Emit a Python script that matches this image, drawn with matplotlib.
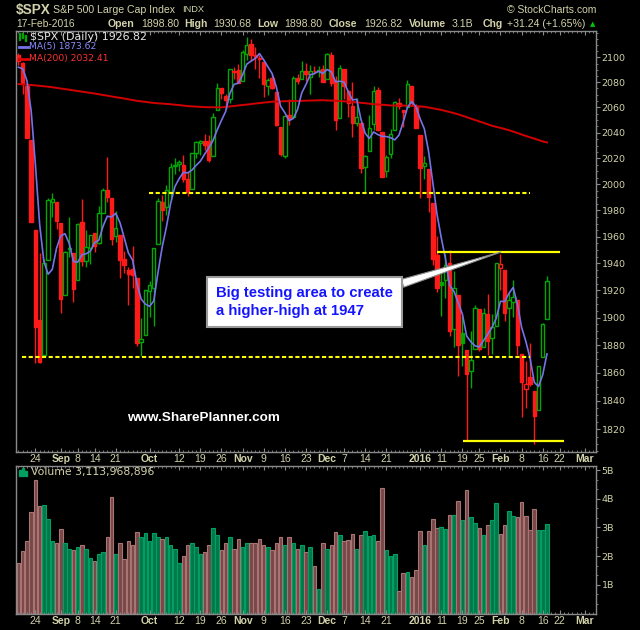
import numpy as np
import pandas as pd
import matplotlib
matplotlib.use("Agg")
import matplotlib.pyplot as plt
from matplotlib.ticker import FixedLocator, FixedFormatter, NullFormatter
from matplotlib.patches import Rectangle

# $SPX daily candles, 18-Aug-2015 .. 17-Feb-2016
opens = [2101.75, 2095.69, 2076.61, 2034.08, 1965.15, 1898.08, 1872.75, 1942.77, 1986.06, 1986.73,
         1970.09, 1916.52, 1950.79, 1947.76, 1927.30, 1971.45, 1941.59, 1951.45, 1963.06, 1955.10,
         1978.02, 1995.33, 1989.66, 1960.84, 1961.39, 1943.24, 1934.81, 1935.93, 1929.18, 1881.90,
         1887.14, 1919.65, 1921.77, 1954.33, 1986.63, 1982.34, 1994.01, 2013.73, 2015.65, 2015.00,
         2003.66, 1996.47, 2024.37, 2031.73, 2033.13, 2033.47, 2021.88, 2058.19, 2075.08, 2068.75,
         2066.48, 2088.35, 2090.00, 2080.76, 2102.63, 2110.60, 2101.68, 2098.60, 2096.56, 2077.19,
         2083.41, 2072.29, 2044.64, 2022.08, 2053.67, 2051.99, 2083.70, 2082.82, 2089.41, 2084.42,
         2089.30, 2088.82, 2090.95, 2082.93, 2101.71, 2080.71, 2051.24, 2090.42, 2073.39, 2061.17,
         2047.93, 2047.27, 2013.37, 2025.55, 2046.50, 2073.76, 2040.81, 2010.27, 2023.15, 2042.20,
         2063.52, 2057.77, 2060.54, 2077.34, 2060.59, 2038.20, 2013.78, 2011.71, 1985.32, 1945.97,
         1926.12, 1927.83, 1940.34, 1891.68, 1916.68, 1888.66, 1876.18, 1861.46, 1877.40, 1906.28,
         1878.79, 1902.52, 1885.22, 1894.00, 1936.94, 1935.26, 1907.07, 1911.67, 1913.07, 1873.25,
         1848.46, 1857.10, 1847.00, 1833.40, 1871.44, 1898.80]
highs = [2103.47, 2096.17, 2076.61, 2034.08, 1965.15, 1948.04, 1943.09, 1989.60, 1993.48, 1986.73,
         1970.09, 1948.91, 1975.01, 1947.76, 1970.42, 1988.63, 1965.29, 1961.05, 1963.06, 1983.19,
         1997.26, 2020.86, 1989.66, 1979.64, 1961.39, 1949.52, 1937.17, 1952.89, 1929.18, 1899.48,
         1920.53, 1927.21, 1951.36, 1989.17, 1991.62, 1999.31, 2016.50, 2020.13, 2018.66, 2022.34,
         2009.56, 2024.15, 2033.54, 2034.45, 2039.12, 2037.97, 2055.20, 2079.74, 2075.14, 2070.37,
         2090.35, 2092.52, 2094.32, 2106.20, 2116.48, 2114.59, 2108.78, 2101.91, 2096.56, 2083.67,
         2086.94, 2072.29, 2044.64, 2053.22, 2066.69, 2085.31, 2086.74, 2097.06, 2095.61, 2094.12,
         2093.00, 2093.29, 2093.81, 2103.37, 2104.27, 2085.00, 2093.84, 2090.42, 2073.85, 2080.33,
         2067.65, 2047.27, 2022.92, 2053.87, 2076.72, 2076.37, 2040.81, 2022.90, 2042.74, 2064.73,
         2067.36, 2057.77, 2081.56, 2077.34, 2062.54, 2038.20, 2021.94, 2011.71, 1985.32, 1960.40,
         1935.65, 1947.38, 1950.33, 1934.47, 1916.68, 1901.44, 1876.18, 1889.85, 1908.85, 1906.28,
         1906.73, 1916.99, 1902.96, 1940.24, 1947.20, 1935.26, 1918.01, 1927.35, 1913.07, 1873.25,
         1868.25, 1881.60, 1847.00, 1864.78, 1895.77, 1930.68]
lows = [2094.14, 2070.53, 2035.66, 1970.89, 1867.01, 1867.08, 1872.75, 1942.77, 1975.19, 1965.98,
        1903.07, 1916.52, 1944.72, 1911.21, 1927.30, 1937.88, 1937.19, 1939.19, 1948.27, 1954.30,
        1977.93, 1986.73, 1953.45, 1955.80, 1929.22, 1932.57, 1908.92, 1921.50, 1879.21, 1871.91,
        1887.14, 1900.70, 1893.70, 1954.33, 1971.99, 1976.44, 1987.53, 2007.61, 2010.55, 2001.78,
        1990.73, 1996.47, 2020.46, 2022.31, 2026.61, 2017.22, 2021.88, 2058.19, 2066.53, 2058.84,
        2063.11, 2082.63, 2079.34, 2080.76, 2097.51, 2096.98, 2090.41, 2083.74, 2068.24, 2069.91,
        2074.85, 2045.66, 2022.02, 2019.94, 2045.90, 2051.99, 2078.76, 2082.82, 2081.39, 2070.29,
        2086.30, 2084.13, 2080.41, 2082.93, 2077.11, 2042.35, 2051.24, 2066.78, 2052.32, 2036.53,
        2045.67, 2008.80, 1993.26, 2025.55, 2042.43, 2041.66, 2005.33, 2005.93, 2020.49, 2042.20,
        2058.73, 2044.20, 2060.54, 2061.97, 2043.62, 1989.68, 2004.17, 1979.05, 1938.83, 1918.46,
        1901.10, 1914.35, 1886.41, 1878.93, 1857.83, 1864.60, 1812.29, 1848.98, 1877.40, 1875.97,
        1878.79, 1872.70, 1873.65, 1894.00, 1920.03, 1897.29, 1872.23, 1900.52, 1872.65, 1828.46,
        1834.94, 1850.32, 1810.10, 1833.40, 1871.44, 1898.80]
closes = [2096.92, 2079.61, 2035.73, 1970.89, 1893.21, 1867.61, 1940.51, 1987.66, 1988.87, 1972.18,
          1913.85, 1948.86, 1951.13, 1921.22, 1969.41, 1942.04, 1952.29, 1961.05, 1953.03, 1978.09,
          1995.31, 1990.20, 1958.03, 1966.97, 1942.74, 1938.76, 1932.24, 1931.34, 1881.77, 1884.09,
          1920.03, 1923.82, 1951.36, 1987.05, 1979.92, 1995.83, 2013.43, 2014.89, 2017.46, 2003.69,
          1994.24, 2023.86, 2033.11, 2033.66, 2030.77, 2018.94, 2052.51, 2075.15, 2071.18, 2065.89,
          2090.35, 2089.41, 2079.36, 2104.05, 2109.79, 2102.31, 2099.93, 2099.20, 2078.58, 2081.72,
          2075.00, 2045.97, 2023.04, 2053.19, 2050.44, 2083.58, 2081.24, 2089.17, 2086.59, 2089.14,
          2088.87, 2090.11, 2080.41, 2102.63, 2079.51, 2049.62, 2091.69, 2077.07, 2063.59, 2047.62,
          2052.23, 2012.37, 2021.94, 2043.41, 2073.07, 2041.89, 2005.55, 2021.15, 2038.97, 2064.29,
          2060.99, 2056.50, 2078.36, 2063.36, 2043.94, 2012.66, 2016.71, 1990.26, 1943.09, 1922.03,
          1923.67, 1938.68, 1890.28, 1921.84, 1880.33, 1881.33, 1859.33, 1868.99, 1906.90, 1877.08,
          1903.63, 1882.95, 1893.36, 1940.24, 1939.38, 1903.03, 1912.53, 1915.45, 1880.05, 1853.44,
          1852.21, 1851.86, 1829.08, 1864.78, 1895.58, 1926.82]
# closes of the four sessions before the first candle (for MA(5) and first colour)
prior_closes = [2086.05, 2083.39, 2091.54, 2102.44]

# volume, billions of shares
volumes = [1.76, 2.17, 2.54, 3.52, 4.66, 3.75, 3.78, 3.31, 2.54, 2.44,
           2.95, 2.47, 2.26, 2.23, 2.33, 2.37, 2.26, 1.95, 1.82, 2.06,
           2.16, 2.68, 4.06, 2.09, 2.44, 1.89, 2.54, 2.40, 2.85, 2.68,
           2.82, 2.54, 2.82, 2.68, 2.59, 2.68, 2.40, 2.26, 1.75, 2.02,
           2.40, 2.44, 2.33, 2.09, 2.16, 2.37, 2.99, 2.75, 2.20, 2.47,
           2.68, 2.26, 2.61, 2.30, 2.44, 2.47, 2.44, 2.61, 2.40, 2.30,
           2.20, 2.47, 2.68, 2.40, 2.68, 2.47, 2.26, 2.40, 2.13, 2.33,
           1.64, 0.85, 2.47, 2.26, 2.40, 2.85, 2.75, 2.51, 2.57, 2.78,
           2.26, 2.75, 2.89, 2.71, 2.75, 2.51, 4.37, 2.20, 2.02, 2.06,
           0.78, 1.40, 1.44, 1.26, 1.51, 2.89, 2.40, 2.89, 3.30, 2.99,
           3.02, 2.95, 3.44, 3.44, 3.92, 3.26, 4.30, 3.37, 3.16, 2.99,
           2.75, 3.09, 3.26, 3.85, 2.78, 3.09, 3.57, 3.40, 3.37, 3.89,
           3.40, 2.92, 3.64, 2.92, 2.92, 3.11]

# MA(200) as drawn on the chart
ma200 = [2078.5, 2078.3, 2078.0, 2077.8, 2077.5, 2077.1, 2076.8, 2076.4, 2076.0, 2075.5,
         2075.0, 2074.5, 2074.0, 2073.5, 2073.0, 2072.5, 2072.0, 2071.5, 2071.0, 2070.4,
         2069.8, 2069.3, 2068.7, 2068.1, 2067.6, 2067.0, 2066.4, 2065.8, 2065.2, 2064.8,
         2064.4, 2063.9, 2063.5, 2063.2, 2063.0, 2062.7, 2062.5, 2062.1, 2061.8, 2061.4,
         2061.0, 2060.8, 2060.6, 2060.4, 2060.2, 2060.1, 2060.1, 2060.0, 2060.0, 2060.4,
         2060.7, 2061.1, 2061.5, 2061.9, 2062.2, 2062.6, 2063.0, 2063.4, 2063.8, 2064.1,
         2064.5, 2064.6, 2064.7, 2064.9, 2065.0, 2065.1, 2065.1, 2065.2, 2065.3, 2065.4,
         2065.5, 2065.6, 2065.7, 2065.5, 2065.4, 2065.2, 2065.0, 2064.8, 2064.5, 2064.3,
         2064.0, 2063.6, 2063.3, 2062.9, 2062.5, 2062.3, 2062.0, 2061.8, 2061.5, 2061.5,
         2061.4, 2061.4, 2061.3, 2061.1, 2060.9, 2060.7, 2060.5, 2059.9, 2059.3, 2058.6,
         2058.0, 2057.1, 2056.3, 2055.4, 2054.5, 2053.4, 2052.3, 2051.1, 2050.0, 2048.9,
         2047.8, 2046.6, 2045.5, 2044.6, 2043.8, 2042.9, 2042.0, 2040.9, 2039.8, 2038.6,
         2037.5, 2036.4, 2035.4, 2034.3, 2033.2, 2032.4]

# hand drawn levels: (price, first session, last session)
dashed_levels = [(1993.5, 30.9, 121.0), (1871.6, 0.8, 121.0)]
solid_levels = [(1948.5, 99.0, 128.0), (1812.2, 105.1, 129.0)]

tick_dates = ['2015-08-24', '2015-09-01', '2015-09-08', '2015-09-14', '2015-09-21',
              '2015-10-01', '2015-10-12', '2015-10-19', '2015-10-26', '2015-11-02',
              '2015-11-09', '2015-11-16', '2015-11-23', '2015-12-01', '2015-12-07',
              '2015-12-14', '2015-12-21', '2016-01-04', '2016-01-11', '2016-01-19',
              '2016-01-25', '2016-02-01', '2016-02-08', '2016-02-16', '2016-02-22',
              '2016-03-01']
tick_labels = ['24', 'Sep', '8', '14', '21', 'Oct', '12', '19', '26', 'Nov', '9', '16', '23',
               'Dec', '7', '14', '21', '2016', '11', '19', '25', 'Feb', '8', '16', '22', 'Mar']
price_ticks = list(range(1820, 2101, 20))
volume_ticks = [1, 2, 3, 4, 5]

KHAKI = '#d2d2aa'
GRID = '#8a8a8a'
RED = '#ff1a1a'
GREEN = '#00a800'
FONT = 'Liberation Sans'

holidays = pd.to_datetime(['2015-09-07', '2015-11-26', '2015-12-25', '2016-01-01',
                           '2016-01-18', '2016-02-15'])
days = pd.bdate_range('2015-08-18', '2016-03-04')
days = days[~days.isin(holidays)]
tick_pos = days.get_indexer(pd.to_datetime(tick_dates))

o, h, l, c = (np.array(a) for a in (opens, highs, lows, closes))
x = np.arange(len(c))
prev = np.r_[prior_closes[-1], c[:-1]]
up = c >= prev
ma5 = pd.Series(prior_closes + closes).rolling(5).mean().to_numpy()[len(prior_closes):]

W, H = 640, 630
def box(left, top, right, bottom):
    return [left / W, 1 - bottom / H, (right - left) / W, (bottom - top) / H]
def fpx(px, py):
    return px / W, 1 - py / H

fig = plt.figure(figsize=(6.4, 6.3), dpi=100, facecolor='black')
ax = fig.add_axes(box(16, 31, 596, 451.5), facecolor='black')
axv = fig.add_axes(box(16, 466, 596, 613.5), facecolor='black')

# --- price panel
col = np.where(up, GREEN, RED)
filled = c < o
lo_body = np.minimum(o, c)
hi_body = np.maximum(o, c)
ax.vlines(x, l, h, colors=col, lw=1.0, zorder=2)
ax.bar(x, np.maximum(hi_body - lo_body, 0.4), bottom=lo_body, width=0.8,
       color=np.where(filled, col, 'black'), edgecolor=col, linewidth=1.0, zorder=3)
ax.plot(x, ma200, color='#d40000', lw=1.4, zorder=4)
ax.plot(x, ma5, color='#7474e8', lw=1.2, zorder=4)

for lev, x0, x1 in dashed_levels:
    ax.hlines(lev, x0, x1, colors='#ffff00', lw=1.5, linestyles=(0, (2.0, 1.2)), zorder=5)
for lev, x0, x1 in solid_levels:
    ax.hlines(lev, x0, x1, colors='#ffff00', lw=1.6, zorder=5)

ax.set_yscale('log')
ax.set_ylim(1804.6, 2121.4)
ax.set_xlim(-0.59, 136.6)
ax.yaxis.tick_right()
ax.yaxis.set_major_locator(FixedLocator(price_ticks))
ax.yaxis.set_major_formatter(FixedFormatter([str(t) for t in price_ticks]))
ax.yaxis.set_minor_locator(FixedLocator(list(range(1805, 2121, 5))))
ax.yaxis.set_minor_formatter(NullFormatter())

# --- volume panel
vfill = np.where(up, '#00774a', '#784848')
vedge = np.where(up, '#00a064', '#a87474')
axv.bar(x, volumes, width=0.84, color=vfill, edgecolor=vedge, linewidth=0.8)
axv.set_xlim(-0.59, 136.6)
axv.set_ylim(0, 5.14)
axv.yaxis.tick_right()
axv.yaxis.set_major_locator(FixedLocator(volume_ticks))
axv.yaxis.set_major_formatter(FixedFormatter([f'{v}B' for v in volume_ticks]))
axv.yaxis.set_minor_locator(FixedLocator(np.arange(1, 16) / 3))

for a in (ax, axv):
    for s in a.spines.values():
        s.set_color(GRID)
        s.set_linewidth(1.0)
    a.set_xticks(tick_pos)
    a.set_xticklabels(tick_labels)
    a.set_xticks(np.arange(0, 137), minor=True)
    a.tick_params(axis='x', which='both', direction='in', top=True, colors=GRID,
                  labelcolor=KHAKI, labelsize=7.5, pad=2)
    a.tick_params(axis='x', which='major', length=3)
    a.tick_params(axis='x', which='minor', length=1.5)
    a.tick_params(axis='y', which='major', length=3, colors=GRID, labelcolor=KHAKI,
                  labelsize=6.8, pad=1)
    a.tick_params(axis='y', which='minor', length=1.5, colors=GRID)
    for t in a.get_xticklabels():
        t.set_fontfamily(FONT)
        if not t.get_text().isdigit() or t.get_text() == '2016':
            t.set_fontweight('bold')
    for t in a.get_yticklabels():
        t.set_fontfamily('DejaVu Sans')

# --- header
fig.text(*fpx(16, 10), '$SPX', color=KHAKI, fontsize=9.8, fontweight='bold',
         family=FONT, va='center')
fig.text(*fpx(53, 10), 'S&P 500 Large Cap Index', color=KHAKI, fontsize=7.6,
         family=FONT, va='center')
fig.text(*fpx(182, 10), 'INDX', color=KHAKI, fontsize=6.7, family=FONT, va='center')
fig.text(*fpx(596, 10), '\u00a9 StockCharts.com', color=KHAKI, fontsize=7.5,
         family=FONT, va='center', ha='right')
fig.text(*fpx(16, 24), '17-Feb-2016', color=KHAKI, fontsize=7.4, family=FONT, va='center')
header = [(108, 'Open', True), (141, '1898.80', False), (184.5, 'High', True),
          (213, '1930.68', False), (257, 'Low', True), (284.5, '1898.80', False),
          (329, 'Close', True), (364.5, '1926.82', False), (409, 'Volume', True),
          (451.4, '3.1B', False), (483, 'Chg', True), (507, '+31.24 (+1.65%)', False)]
for hx, txt, bold in header:
    fig.text(*fpx(hx, 24), txt, color=KHAKI, fontsize=7.6, family=FONT, va='center',
             fontweight='bold' if bold else 'normal')
fig.text(*fpx(593, 24), '\u25b2', color='#00c800', fontsize=5, va='center', ha='center')

# --- legends
fig.patches.append(Rectangle(fpx(18.5, 40), 1.6 / W, 7 / H, color=GREEN, transform=fig.transFigure))
fig.patches.append(Rectangle(fpx(21.5, 38), 1.6 / W, 5 / H, color=GREEN, transform=fig.transFigure))
fig.patches.append(Rectangle(fpx(24.5, 41), 1.6 / W, 6 / H, color=GREEN, transform=fig.transFigure))
fig.text(*fpx(30, 36.5), '$SPX (Daily) 1926.82', color='#e6e6e6', fontsize=7.9,
         family='DejaVu Sans', va='center')
fig.add_artist(plt.Line2D([19 / W, 28 / W], [1 - 47 / H] * 2, color='#7474e8', lw=2))
fig.text(*fpx(29, 47), 'MA(5) 1873.62', color='#8a8aff', fontsize=6.6,
         family='DejaVu Sans', va='center')
fig.add_artist(plt.Line2D([19 / W, 28 / W], [1 - 58.5 / H] * 2, color='#e00000', lw=2))
fig.text(*fpx(29, 58.5), 'MA(200) 2032.41', color='#ff3030', fontsize=6.6,
         family='DejaVu Sans', va='center')

for bx, bh in ((18.5, 6), (21.5, 8), (24.5, 5)):
    fig.patches.append(Rectangle(fpx(bx, 476), 2 / W, bh / H, color='#00a060',
                                 transform=fig.transFigure))
fig.text(*fpx(31, 472.5), 'Volume 3,113,968,896', color=KHAKI, fontsize=7.8,
         family='DejaVu Sans', va='center')

# --- annotation and site mark
ax.annotate('Big testing area to create\na higher-high at 1947',
            xy=(114.1, 1948.5), xycoords='data',
            xytext=(216, H - 302), textcoords='figure pixels',
            ha='left', va='center', color='#1414ff', fontsize=10.7, fontweight='bold',
            family=FONT, linespacing=1.35, zorder=10,
            bbox=dict(boxstyle='square,pad=0.6', fc='white', ec='#9a9a9a', lw=1.5),
            arrowprops=dict(arrowstyle='wedge,tail_width=0.55,shrink_factor=0.5',
                            fc='white', ec='#8c8c8c', lw=0.8, relpos=(0.92, 0.85),
                            shrinkA=0, shrinkB=0))
fig.text(*fpx(203.5, 418), 'www.SharePlanner.com', color='white', fontsize=9.7,
         fontweight='bold', family=FONT, ha='center', va='center')

fig.savefig('out.png', dpi=100, facecolor='black')
